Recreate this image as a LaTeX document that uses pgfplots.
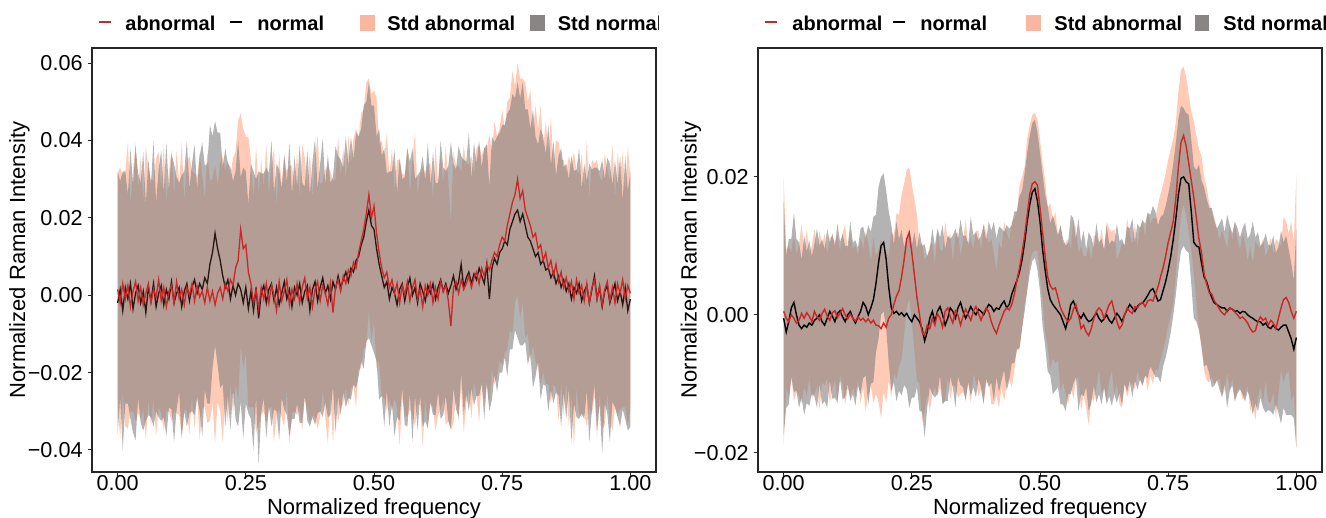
\documentclass[border=0pt]{standalone}
\usepackage{fontspec}
\setmainfont{Liberation Sans}
\usepackage{pgfplots}
\pgfplotsset{compat=1.18}
\usepackage{pgfplotstable}

\definecolor{redline}{RGB}{205,38,38}
\definecolor{leftblack}{RGB}{40,22,18}
\definecolor{salm}{RGB}{255,160,122}
\definecolor{grayband}{RGB}{128,128,128}
\definecolor{legsalm}{RGB}{250,182,158}
\definecolor{leggray}{RGB}{138,133,133}

% Left panel: x, abnormal mean, normal mean, abnormal sd, normal sd
\pgfplotstableread{
x an nm as ns
0.000 0.0015 -0.0020 0.030 0.034
0.005 -0.0020 0.0015 0.035 0.028
0.010 0.0030 -0.0040 0.028 0.036
0.015 -0.0010 0.0020 0.033 0.030
0.020 0.0025 -0.0010 0.037 0.027
0.025 -0.0030 0.0030 0.027 0.035
0.030 0.0010 -0.0035 0.031 0.032
0.035 0.0035 0.0005 0.036 0.038
0.040 -0.0015 0.0025 0.029 0.029
0.045 0.0020 -0.0020 0.034 0.031
0.050 -0.0025 0.0010 0.027 0.036
0.055 0.0005 -0.0045 0.038 0.028
0.060 0.0030 0.0020 0.030 0.033
0.065 -0.0020 -0.0015 0.032 0.030
0.070 0.0015 0.0030 0.028 0.037
0.075 -0.0005 -0.0030 0.036 0.027
0.080 0.0040 0.0005 0.033 0.032
0.085 -0.0015 0.0025 0.029 0.035
0.090 0.0020 -0.0025 0.037 0.029
0.095 -0.0030 0.0015 0.027 0.038
0.100 0.0010 -0.0010 0.031 0.028
0.105 0.0025 0.0035 0.035 0.033
0.110 -0.0020 -0.0020 0.028 0.036
0.115 0.0035 0.0005 0.034 0.030
0.120 -0.0010 0.0020 0.030 0.027
0.125 0.0015 -0.0030 0.038 0.034
0.130 -0.0025 0.0010 0.027 0.031
0.135 0.0020 0.0030 0.032 0.037
0.140 0.0000 -0.0015 0.036 0.029
0.145 0.0030 0.0020 0.029 0.032
0.150 -0.0015 0.0040 0.033 0.035
0.155 0.0025 0.0005 0.028 0.027
0.160 -0.0005 0.0030 0.037 0.033
0.165 0.0010 0.0015 0.030 0.038
0.170 -0.0020 0.0045 0.027 0.029
0.175 0.0020 0.0030 0.035 0.031
0.180 -0.0015 0.0080 0.031 0.036
0.185 0.0010 0.0110 0.029 0.030
0.190 -0.0025 0.0160 0.036 0.029
0.195 0.0005 0.0120 0.028 0.030
0.200 0.0020 0.0090 0.032 0.033
0.205 -0.0010 0.0050 0.037 0.028
0.210 0.0030 0.0020 0.029 0.036
0.215 0.0010 0.0040 0.034 0.030
0.220 0.0040 -0.0010 0.027 0.034
0.225 0.0025 0.0025 0.033 0.027
0.230 0.0070 0.0000 0.030 0.032
0.235 0.0090 0.0030 0.036 0.037
0.240 0.0170 0.0015 0.030 0.029
0.245 0.0120 -0.0020 0.031 0.035
0.250 0.0130 0.0020 0.028 0.030
0.255 0.0060 -0.0035 0.035 0.027
0.260 0.0030 0.0010 0.032 0.033
0.265 -0.0020 -0.0040 0.027 0.036
0.270 0.0015 0.0020 0.037 0.028
0.275 -0.0035 -0.0060 0.030 0.038
0.280 0.0020 0.0005 0.033 0.031
0.285 -0.0010 0.0025 0.029 0.029
0.290 0.0030 -0.0020 0.036 0.035
0.295 -0.0020 0.0015 0.028 0.030
0.300 0.0025 0.0030 0.031 0.037
0.305 0.0000 -0.0015 0.038 0.028
0.310 -0.0040 0.0020 0.027 0.032
0.315 0.0035 -0.0025 0.033 0.035
0.320 -0.0015 0.0005 0.030 0.027
0.325 0.0010 0.0035 0.035 0.033
0.330 0.0040 -0.0010 0.028 0.030
0.335 -0.0025 0.0015 0.036 0.038
0.340 0.0015 -0.0030 0.032 0.029
0.345 -0.0010 0.0020 0.029 0.034
0.350 0.0030 0.0000 0.034 0.028
0.355 -0.0020 0.0030 0.027 0.036
0.360 0.0020 -0.0020 0.037 0.031
0.365 0.0045 0.0010 0.031 0.027
0.370 -0.0010 0.0025 0.029 0.035
0.375 0.0020 -0.0040 0.035 0.030
0.380 -0.0030 0.0015 0.028 0.033
0.385 0.0015 0.0035 0.033 0.037
0.390 0.0035 -0.0015 0.038 0.029
0.395 -0.0015 0.0020 0.030 0.032
0.400 0.0025 0.0045 0.027 0.036
0.405 0.0005 0.0005 0.032 0.028
0.410 -0.0025 0.0025 0.036 0.034
0.415 0.0030 -0.0010 0.029 0.030
0.420 -0.0045 0.0035 0.034 0.027
0.425 0.0020 0.0015 0.028 0.037
0.430 0.0040 0.0050 0.037 0.031
0.435 0.0010 0.0020 0.030 0.033
0.440 0.0050 0.0040 0.033 0.029
0.445 0.0030 0.0060 0.027 0.035
0.450 0.0065 0.0035 0.035 0.030
0.455 0.0050 0.0070 0.029 0.034
0.460 0.0085 0.0060 0.032 0.029
0.465 0.0070 0.0090 0.036 0.033
0.470 0.0110 0.0100 0.030 0.031
0.475 0.0140 0.0130 0.033 0.030
0.480 0.0170 0.0150 0.031 0.034
0.485 0.0210 0.0190 0.034 0.031
0.490 0.0260 0.0220 0.030 0.033
0.495 0.0200 0.0180 0.032 0.031
0.500 0.0230 0.0170 0.030 0.032
0.505 0.0160 0.0120 0.035 0.029
0.510 0.0110 0.0080 0.028 0.035
0.515 0.0070 0.0050 0.033 0.031
0.520 0.0045 0.0020 0.031 0.036
0.525 0.0060 0.0035 0.036 0.028
0.530 0.0020 -0.0010 0.029 0.033
0.535 0.0040 0.0020 0.034 0.030
0.540 0.0005 0.0005 0.027 0.037
0.545 0.0030 -0.0025 0.032 0.029
0.550 -0.0020 0.0015 0.037 0.034
0.555 0.0025 0.0030 0.029 0.027
0.560 0.0000 -0.0015 0.031 0.032
0.565 0.0035 0.0020 0.035 0.036
0.570 -0.0015 0.0045 0.028 0.030
0.575 0.0020 0.0000 0.033 0.038
0.580 0.0040 0.0020 0.038 0.028
0.585 -0.0010 -0.0020 0.027 0.033
0.590 0.0015 0.0030 0.030 0.029
0.595 -0.0030 0.0010 0.036 0.035
0.600 0.0025 -0.0015 0.029 0.031
0.605 0.0000 0.0025 0.034 0.037
0.610 0.0030 0.0005 0.031 0.028
0.615 -0.0020 0.0030 0.027 0.034
0.620 0.0020 -0.0010 0.037 0.030
0.625 -0.0010 0.0020 0.030 0.027
0.630 0.0035 0.0040 0.033 0.036
0.635 0.0010 0.0010 0.028 0.032
0.640 0.0025 0.0030 0.036 0.029
0.645 -0.0015 0.0005 0.031 0.033
0.650 -0.0080 0.0025 0.027 0.037
0.655 0.0020 0.0050 0.035 0.029
0.660 0.0035 0.0015 0.030 0.031
0.665 0.0005 0.0035 0.033 0.035
0.670 0.0040 0.0080 0.028 0.028
0.675 0.0015 0.0020 0.037 0.033
0.680 0.0030 0.0045 0.031 0.030
0.685 0.0050 0.0060 0.029 0.036
0.690 0.0020 0.0030 0.034 0.027
0.695 0.0045 0.0055 0.027 0.034
0.700 0.0060 0.0040 0.032 0.030
0.705 0.0030 0.0070 0.036 0.033
0.710 0.0070 0.0050 0.029 0.028
0.715 0.0050 0.0030 0.033 0.035
0.720 0.0080 0.0080 0.030 0.031
0.725 0.0065 -0.0010 0.035 0.029
0.730 0.0090 0.0070 0.028 0.034
0.735 0.0110 0.0095 0.034 0.030
0.740 0.0100 0.0080 0.031 0.033
0.745 0.0130 0.0110 0.030 0.031
0.750 0.0150 0.0120 0.033 0.032
0.755 0.0140 0.0140 0.029 0.030
0.760 0.0180 0.0130 0.032 0.034
0.765 0.0210 0.0170 0.030 0.031
0.770 0.0240 0.0190 0.034 0.033
0.775 0.0260 0.0210 0.028 0.030
0.780 0.0300 0.0220 0.030 0.033
0.785 0.0250 0.0190 0.031 0.032
0.790 0.0270 0.0210 0.029 0.034
0.795 0.0220 0.0180 0.033 0.030
0.800 0.0200 0.0150 0.030 0.033
0.805 0.0180 0.0140 0.035 0.029
0.810 0.0150 0.0120 0.028 0.036
0.815 0.0160 0.0100 0.033 0.031
0.820 0.0120 0.0110 0.031 0.028
0.825 0.0130 0.0080 0.036 0.035
0.830 0.0090 0.0090 0.029 0.032
0.835 0.0110 0.0065 0.034 0.030
0.840 0.0070 0.0070 0.030 0.037
0.845 0.0090 0.0045 0.037 0.029
0.850 0.0050 0.0060 0.028 0.034
0.855 0.0080 0.0030 0.032 0.028
0.860 0.0035 0.0050 0.036 0.031
0.865 0.0060 0.0020 0.029 0.036
0.870 0.0020 0.0040 0.033 0.029
0.875 0.0045 0.0010 0.027 0.033
0.880 0.0010 0.0030 0.035 0.027
0.885 0.0035 -0.0010 0.030 0.037
0.890 -0.0010 0.0020 0.038 0.030
0.895 0.0040 0.0005 0.028 0.032
0.900 0.0005 0.0030 0.031 0.035
0.905 0.0025 -0.0015 0.034 0.029
0.910 -0.0015 0.0010 0.029 0.033
0.915 0.0030 0.0025 0.037 0.027
0.920 -0.0020 -0.0020 0.027 0.036
0.925 0.0020 0.0015 0.033 0.031
0.930 0.0040 0.0050 0.030 0.028
0.935 -0.0010 -0.0010 0.036 0.034
0.940 0.0025 0.0020 0.028 0.030
0.945 -0.0025 -0.0030 0.032 0.038
0.950 0.0015 0.0010 0.035 0.029
0.955 0.0035 0.0025 0.029 0.033
0.960 -0.0015 -0.0020 0.031 0.036
0.965 0.0020 0.0005 0.037 0.028
0.970 -0.0020 0.0030 0.027 0.032
0.975 0.0030 -0.0015 0.034 0.030
0.980 0.0005 0.0010 0.030 0.035
0.985 0.0040 -0.0025 0.033 0.027
0.990 -0.0010 0.0020 0.028 0.034
0.995 0.0025 -0.0040 0.036 0.031
1.000 0.0005 -0.0010 0.030 0.033
}\leftdata

% Right panel: x, abnormal mean, normal mean, abnormal sd, normal sd
\pgfplotstableread{
x an nm as ns
0.000 0.0005 -0.0005 0.0195 0.017
0.005 -0.0005 -0.0025 0.010 0.011
0.010 -0.0010 -0.0010 0.011 0.012
0.015 0.0000 0.0010 0.009 0.010
0.020 -0.0005 0.0018 0.012 0.013
0.025 -0.0012 0.0000 0.010 0.011
0.030 -0.0008 -0.0015 0.011 0.012
0.035 0.0002 -0.0020 0.013 0.010
0.040 -0.0005 -0.0015 0.010 0.013
0.045 0.0003 -0.0018 0.012 0.011
0.050 -0.0002 -0.0012 0.009 0.012
0.055 -0.0010 -0.0015 0.011 0.010
0.060 0.0005 -0.0008 0.012 0.011
0.065 -0.0003 -0.0005 0.010 0.013
0.070 -0.0008 0.0000 0.013 0.010
0.075 0.0002 -0.0010 0.010 0.012
0.080 0.0008 -0.0015 0.011 0.011
0.085 -0.0002 -0.0005 0.009 0.013
0.090 -0.0008 0.0005 0.012 0.010
0.095 0.0003 -0.0002 0.011 0.012
0.100 0.0006 -0.0010 0.010 0.011
0.105 -0.0004 0.0002 0.012 0.013
0.110 0.0002 0.0006 0.009 0.010
0.115 0.0009 -0.0003 0.011 0.012
0.120 0.0000 -0.0010 0.013 0.011
0.125 -0.0006 0.0000 0.010 0.010
0.130 0.0001 0.0005 0.012 0.013
0.135 -0.0005 -0.0005 0.010 0.011
0.140 -0.0009 -0.0012 0.011 0.012
0.145 -0.0003 -0.0003 0.009 0.010
0.150 -0.0008 0.0005 0.012 0.012
0.155 -0.0005 0.0018 0.010 0.011
0.160 -0.0010 0.0012 0.013 0.010
0.165 -0.0006 0.0000 0.011 0.013
0.170 -0.0012 0.0010 0.009 0.011
0.175 -0.0008 0.0022 0.012 0.012
0.180 -0.0015 0.0045 0.010 0.010
0.185 -0.0016 0.0075 0.011 0.011
0.190 -0.0020 0.0100 0.013 0.010
0.195 -0.0012 0.0105 0.010 0.010
0.200 -0.0018 0.0080 0.011 0.010
0.205 -0.0005 0.0040 0.009 0.011
0.210 0.0000 0.0010 0.012 0.012
0.215 0.0015 0.0002 0.010 0.010
0.220 0.0027 0.0005 0.012 0.013
0.225 0.0035 0.0000 0.011 0.011
0.230 0.0055 0.0003 0.012 0.012
0.235 0.0080 -0.0002 0.011 0.010
0.240 0.0110 0.0002 0.010 0.011
0.245 0.0119 -0.0005 0.0095 0.013
0.250 0.0090 -0.0010 0.010 0.011
0.255 0.0058 0.0000 0.011 0.012
0.260 0.0025 -0.0005 0.012 0.010
0.265 0.0000 -0.0010 0.010 0.013
0.270 -0.0025 -0.0020 0.013 0.012
0.275 -0.0030 -0.0038 0.011 0.014
0.280 -0.0015 -0.0025 0.010 0.011
0.285 -0.0020 -0.0005 0.012 0.010
0.290 -0.0005 0.0005 0.011 0.012
0.295 -0.0015 -0.0010 0.009 0.011
0.300 0.0002 0.0005 0.012 0.012
0.305 -0.0005 0.0012 0.010 0.010
0.310 -0.0018 0.0000 0.011 0.013
0.315 0.0005 -0.0015 0.013 0.011
0.320 0.0010 -0.0005 0.010 0.012
0.325 -0.0003 0.0010 0.012 0.010
0.330 -0.0012 0.0005 0.009 0.011
0.335 0.0006 -0.0005 0.011 0.013
0.340 0.0000 0.0010 0.012 0.010
0.345 -0.0015 0.0018 0.010 0.012
0.350 -0.0002 0.0005 0.011 0.011
0.355 0.0008 -0.0005 0.013 0.012
0.360 0.0000 0.0003 0.010 0.010
0.365 -0.0008 0.0012 0.012 0.013
0.370 0.0005 0.0005 0.009 0.011
0.375 0.0012 0.0000 0.011 0.012
0.380 0.0002 0.0008 0.012 0.010
0.385 -0.0008 0.0005 0.010 0.011
0.390 0.0003 0.0000 0.013 0.013
0.395 0.0010 0.0008 0.011 0.010
0.400 0.0004 0.0015 0.010 0.012
0.405 -0.0010 0.0012 0.012 0.011
0.410 -0.0020 0.0005 0.011 0.013
0.415 -0.0027 0.0010 0.009 0.010
0.420 -0.0015 0.0008 0.012 0.012
0.425 -0.0005 0.0015 0.010 0.011
0.430 0.0005 0.0020 0.013 0.010
0.435 0.0010 0.0010 0.011 0.012
0.440 0.0007 0.0015 0.010 0.011
0.445 0.0015 0.0030 0.012 0.010
0.450 0.0030 0.0040 0.011 0.011
0.455 0.0050 0.0050 0.010 0.010
0.460 0.0068 0.0062 0.012 0.011
0.465 0.0090 0.0080 0.011 0.010
0.470 0.0115 0.0105 0.010 0.010
0.475 0.0145 0.0135 0.011 0.010
0.480 0.0175 0.0160 0.010 0.010
0.485 0.0190 0.0178 0.010 0.010
0.490 0.0193 0.0183 0.010 0.010
0.495 0.0188 0.0165 0.0095 0.010
0.500 0.0155 0.0135 0.010 0.010
0.505 0.0120 0.0095 0.010 0.011
0.510 0.0085 0.0065 0.011 0.011
0.515 0.0055 0.0038 0.010 0.012
0.520 0.0042 0.0022 0.012 0.011
0.525 0.0037 0.0015 0.010 0.013
0.530 0.0039 0.0010 0.011 0.012
0.535 0.0025 0.0005 0.009 0.011
0.540 0.0010 0.0000 0.012 0.013
0.545 0.0002 -0.0010 0.010 0.012
0.550 -0.0005 -0.0020 0.011 0.012
0.555 -0.0010 -0.0005 0.012 0.011
0.560 -0.0005 0.0015 0.010 0.013
0.565 0.0008 0.0020 0.013 0.012
0.570 0.0015 0.0010 0.011 0.010
0.575 0.0000 0.0000 0.009 0.014
0.580 -0.0020 -0.0005 0.012 0.011
0.585 -0.0015 0.0002 0.010 0.012
0.590 -0.0025 -0.0005 0.011 0.010
0.595 -0.0030 -0.0010 0.013 0.013
0.600 -0.0020 -0.0008 0.010 0.012
0.605 -0.0005 -0.0003 0.012 0.010
0.610 0.0005 0.0003 0.011 0.013
0.615 0.0010 -0.0005 0.009 0.011
0.620 0.0006 -0.0010 0.012 0.012
0.625 -0.0005 -0.0006 0.010 0.010
0.630 0.0005 0.0000 0.013 0.013
0.635 0.0015 -0.0008 0.011 0.011
0.640 0.0020 -0.0012 0.010 0.012
0.645 0.0005 -0.0005 0.012 0.011
0.650 -0.0010 0.0002 0.009 0.013
0.655 -0.0020 -0.0003 0.011 0.011
0.660 -0.0015 -0.0010 0.012 0.012
0.665 0.0000 0.0000 0.010 0.010
0.670 0.0010 0.0008 0.013 0.012
0.675 0.0005 0.0015 0.011 0.011
0.680 0.0002 0.0010 0.010 0.013
0.685 0.0012 0.0005 0.012 0.010
0.690 0.0010 0.0012 0.009 0.012
0.695 0.0016 0.0016 0.011 0.011
0.700 0.0018 0.0017 0.012 0.012
0.705 0.0012 0.0022 0.010 0.011
0.710 0.0020 0.0028 0.013 0.012
0.715 0.0022 0.0035 0.011 0.011
0.720 0.0020 0.0038 0.012 0.012
0.725 0.0030 0.0030 0.011 0.012
0.730 0.0040 0.0020 0.012 0.011
0.735 0.0055 0.0022 0.012 0.012
0.740 0.0068 0.0035 0.012 0.011
0.745 0.0085 0.0048 0.012 0.011
0.750 0.0105 0.0065 0.012 0.011
0.755 0.0120 0.0085 0.012 0.011
0.760 0.0136 0.0110 0.012 0.011
0.765 0.0170 0.0140 0.011 0.011
0.770 0.0215 0.0175 0.011 0.011
0.775 0.0250 0.0198 0.0105 0.0105
0.780 0.0260 0.0200 0.010 0.010
0.785 0.0245 0.0193 0.010 0.010
0.790 0.0220 0.0190 0.010 0.010
0.795 0.0195 0.0150 0.010 0.0105
0.800 0.0170 0.0105 0.011 0.011
0.805 0.0140 0.0100 0.012 0.011
0.810 0.0110 0.0098 0.013 0.012
0.815 0.0090 0.0075 0.014 0.012
0.820 0.0060 0.0055 0.014 0.013
0.825 0.0045 0.0048 0.014 0.012
0.830 0.0032 0.0035 0.013 0.012
0.835 0.0030 0.0025 0.012 0.013
0.840 0.0020 0.0017 0.012 0.012
0.845 0.0015 0.0015 0.011 0.011
0.850 0.0008 0.0012 0.010 0.012
0.855 0.0003 0.0010 0.012 0.013
0.860 0.0000 0.0010 0.011 0.011
0.865 0.0006 0.0005 0.009 0.014
0.870 0.0010 0.0010 0.012 0.012
0.875 0.0008 0.0008 0.010 0.011
0.880 0.0004 0.0005 0.013 0.013
0.885 0.0000 0.0006 0.011 0.012
0.890 -0.0005 0.0002 0.010 0.011
0.895 -0.0003 0.0005 0.012 0.012
0.900 -0.0007 0.0004 0.011 0.013
0.905 -0.0012 0.0000 0.009 0.011
0.910 -0.0020 -0.0003 0.012 0.012
0.915 -0.0025 -0.0005 0.010 0.014
0.920 -0.0023 -0.0008 0.013 0.012
0.925 -0.0010 -0.0010 0.011 0.013
0.930 -0.0003 -0.0010 0.010 0.011
0.935 -0.0008 -0.0015 0.012 0.012
0.940 -0.0005 -0.0012 0.009 0.013
0.945 -0.0015 -0.0018 0.011 0.012
0.950 -0.0008 -0.0020 0.012 0.012
0.955 -0.0012 -0.0015 0.010 0.013
0.960 -0.0020 -0.0020 0.013 0.011
0.965 -0.0005 -0.0022 0.011 0.012
0.970 0.0010 -0.0018 0.009 0.014
0.975 0.0022 -0.0015 0.012 0.012
0.980 0.0025 -0.0015 0.011 0.013
0.985 0.0018 -0.0025 0.010 0.012
0.990 0.0005 -0.0035 0.013 0.011
0.995 -0.0005 -0.0050 0.011 0.010
1.000 0.0005 -0.0033 0.020 0.016
}\rightdata

\pgfplotsset{
  panel/.style={
    scale only axis, width=282pt, height=212pt, anchor=south west,
    xmin=-0.05, xmax=1.05,
    axis line style={black!85, line width=0.6pt},
    tick style={black!85, line width=0.5pt},
    major tick length=2.2pt,
    tick align=outside,
    xtick pos=left, ytick pos=left,
    scaled y ticks=false, scaled x ticks=false,
    xtick={0,0.25,0.5,0.75,1},
    xticklabels={0.00,0.25,0.50,0.75,1.00},
    tick label style={font=\fontsize{10.8}{12}\selectfont},
    xticklabel style={anchor=base, yshift=-7.2pt},
    yticklabel style={xshift=1pt},
    label style={font=\fontsize{11}{13}\selectfont},
    xlabel={Normalized frequency},
    ylabel={Normalized Raman Intensity},
    xlabel style={at={(axis description cs:0.5,0)}, anchor=base, yshift=-21.5pt},
    ylabel style={at={(axis description cs:0,0.5)}, anchor=center},
  }
}

\begin{document}
\begin{tikzpicture}
\useasboundingbox (0,0) rectangle (663pt,259pt);

% ---------------- left panel ----------------
\begin{axis}[panel, at={(46pt,23pt)},
  ymin=-0.0457, ymax=0.0639,
  ytick={-0.04,-0.02,0,0.02,0.04,0.06},
  yticklabels={−0.04,−0.02,0.00,0.02,0.04,0.06},
  ylabel style={yshift=36.3pt}]
\addplot[draw=none, stack plots=y] table[x=x, y expr=\thisrow{an}-\thisrow{as}] {\leftdata};
\addplot[fill=salm, fill opacity=0.55, draw=none, stack plots=y] table[x=x, y expr=2*\thisrow{as}] {\leftdata} \closedcycle;
\addplot[draw=none, stack plots=y] table[x=x, y expr=\thisrow{nm}-\thisrow{ns}-\thisrow{an}-\thisrow{as}] {\leftdata};
\addplot[fill=grayband, fill opacity=0.6, draw=none, stack plots=y] table[x=x, y expr=2*\thisrow{ns}] {\leftdata} \closedcycle;
\addplot[leftblack, line width=0.65pt] table[x=x, y=nm] {\leftdata};
\addplot[redline, line width=0.65pt] table[x=x, y=an] {\leftdata};
\end{axis}

% ---------------- right panel ----------------
\begin{axis}[panel, at={(379pt,23pt)},
  ymin=-0.0228, ymax=0.0387,
  ytick={-0.02,0,0.02},
  yticklabels={−0.02,0.00,0.02},
  ylabel style={yshift=33.5pt}]
\addplot[draw=none, stack plots=y] table[x=x, y expr=\thisrow{an}-\thisrow{as}] {\rightdata};
\addplot[fill=salm, fill opacity=0.55, draw=none, stack plots=y] table[x=x, y expr=2*\thisrow{as}] {\rightdata} \closedcycle;
\addplot[draw=none, stack plots=y] table[x=x, y expr=\thisrow{nm}-\thisrow{ns}-\thisrow{an}-\thisrow{as}] {\rightdata};
\addplot[fill=grayband, fill opacity=0.6, draw=none, stack plots=y] table[x=x, y expr=2*\thisrow{ns}] {\rightdata} \closedcycle;
\addplot[black, line width=0.7pt] table[x=x, y=nm] {\rightdata};
\addplot[redline, line width=0.7pt] table[x=x, y=an] {\rightdata};
\end{axis}

% ---------------- legends ----------------
\tikzset{legtxt/.style={anchor=base west, inner sep=0pt, font=\fontsize{10}{12}\selectfont\bfseries}}
\begin{scope}
\clip (0,0) rectangle (329pt,259pt);
\draw[redline, line width=1pt] (49.5pt,248pt) -- (55.5pt,248pt);
\node[legtxt] at (62.5pt,243.7pt) {abnormal};
\draw[black, line width=1pt] (114.75pt,248pt) -- (121pt,248pt);
\node[legtxt] at (128.5pt,243.7pt) {normal};
\fill[legsalm] (180pt,243.4pt) rectangle (187.5pt,251.7pt);
\node[legtxt] at (193.5pt,243.7pt) {Std abnormal};
\fill[leggray] (265pt,243.4pt) rectangle (272.5pt,251.7pt);
\node[legtxt] at (278.75pt,243.7pt) {Std normal};
\end{scope}

\draw[redline, line width=1pt] (382.5pt,248pt) -- (388.5pt,248pt);
\node[legtxt] at (396pt,243.7pt) {abnormal};
\draw[black, line width=1pt] (446.5pt,248pt) -- (452.5pt,248pt);
\node[legtxt] at (460pt,243.7pt) {normal};
\fill[legsalm] (513pt,243.4pt) rectangle (520.5pt,251.7pt);
\node[legtxt] at (527pt,243.7pt) {Std abnormal};
\fill[leggray] (597.5pt,243.4pt) rectangle (604.5pt,251.7pt);
\node[legtxt] at (611.5pt,243.7pt) {Std normal};
\end{tikzpicture}
\end{document}
